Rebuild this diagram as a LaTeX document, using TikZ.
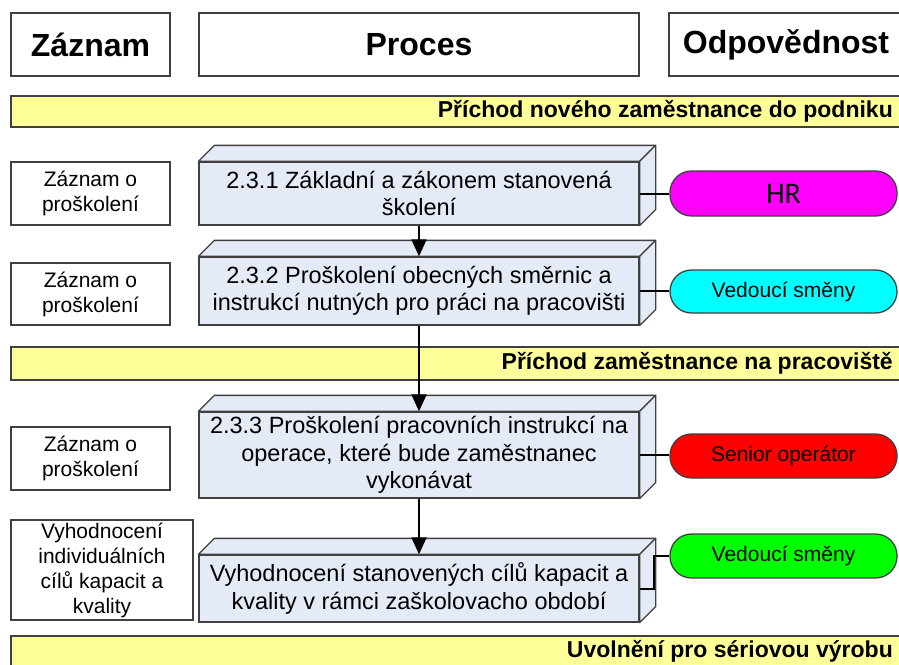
\documentclass[tikz,border=0pt]{standalone}
\usepackage{fontspec}
\setmainfont{Liberation Sans}
\newfontfamily\hrfont{Carlito}
\usetikzlibrary{arrows.meta}
\definecolor{edge}{HTML}{404040}
\definecolor{bandfill}{HTML}{FFFF99}
\definecolor{procfill}{HTML}{E4EAF6}
\definecolor{pillmag}{HTML}{FF00FF}
\definecolor{pillcyan}{HTML}{00FFFF}
\definecolor{pillred}{HTML}{FF0000}
\definecolor{pillgreen}{HTML}{00FF00}
\tikzset{
 frame/.style={draw=edge, line width=1.3pt, fill=white, inner sep=0pt},
 hdr/.style={frame, minimum height=63pt, font=\bfseries\fontsize{32}{36}\selectfont},
 rec/.style={frame, align=center, font=\fontsize{21}{25}\selectfont},
 proc/.style={draw=edge, line width=1.3pt, fill=procfill, inner sep=0pt, minimum width=440pt, align=center, font=\fontsize{23.5}{27.5}\selectfont},
 face/.style={draw=edge, line width=1.3pt, fill=procfill, line join=round},
 band/.style={draw=edge, line width=1.3pt, fill=bandfill, inner sep=0pt, minimum width=894pt},
 bandtext/.style={anchor=east, inner sep=0pt, font=\bfseries\fontsize{23}{27}\selectfont},
 pill/.style={draw=edge, line width=1.3pt, rounded corners=21.5pt, minimum width=227pt, inner sep=0pt, font=\fontsize{21}{25}\selectfont},
 link/.style={line width=2pt, black},
 flow/.style={line width=2pt, black, -{Triangle[length=17pt,width=15pt]}},
}
\newcommand{\threed}[1]{%
 \draw[face] (#1.north west) -- ++(16,-16) -- ([shift={(16,-16)}]#1.north east) -- (#1.north east) -- cycle;
 \draw[face] (#1.north east) -- ++(16,-16) -- ([shift={(16,-16)}]#1.south east) -- (#1.south east) -- cycle;
}
\begin{document}
\begin{tikzpicture}[x=1pt, y=-1pt]
\useasboundingbox (0,0) rectangle (899,664);
\clip (0,0) rectangle (899,664);
\fill[white] (0,0) rectangle (899,664);

% headers
\node[hdr, minimum width=159pt] (hz) at (90.5,44.5) {Záznam};
\node[hdr, minimum width=440pt] (hp) at (419,44.5) {Proces};
\node[hdr, minimum width=234pt] (ho) at (786,44.5) {Odpovědnost};

% bands
\node[band, minimum height=31pt] (b1) at (458,111.5) {};
\node[bandtext] (b1t) at (893,111.5) {Příchod nového zaměstnance do podniku};
\node[band, minimum height=33pt] (b2) at (458,363.5) {};
\node[bandtext] (b2t) at (893,363.5) {Příchod zaměstnance na pracoviště};
\node[band, minimum height=33pt] (b3) at (458,652.5) {};
\node[bandtext] (b3t) at (893,651) {Uvolnění pro sériovou výrobu};

% records
\node[rec, minimum width=159pt, minimum height=63pt] (r1) at (90.5,193.5) {Záznam o\\proškolení};
\node[rec, minimum width=159pt, minimum height=62pt] (r2) at (90.5,294) {Záznam o\\proškolení};
\node[rec, minimum width=159pt, minimum height=63pt] (r3) at (90.5,458.5) {Záznam o\\proškolení};
\node[rec, minimum width=182pt, minimum height=100pt] (r4) at (102,570) {Vyhodnocení\\individuálních\\cílů kapacit a\\kvality};

% process boxes
\node[proc, minimum height=63pt] (p1) at (419,193.5) {2.3.1 Základní a zákonem stanovená\\školení};
\threed{p1}
\node[proc, minimum height=68pt] (p2) at (419,291) {2.3.2 Proškolení obecných směrnic a\\instrukcí nutných pro práci na pracovišti};
\threed{p2}
\node[proc, minimum height=86pt] (p3) at (419,455) {2.3.3 Proškolení pracovních instrukcí na\\operace, které bude zaměstnanec\\vykonávat};
\threed{p3}
\node[proc, minimum height=67pt] (p4) at (419,588.5) {Vyhodnocení stanovených cílů kapacit a\\kvality v rámci zaškolovacho období};
\threed{p4}

% responsibilities
\node[pill, fill=pillmag, minimum height=45pt, font=\hrfont\fontsize{30}{33}\selectfont] (hr) at (783.5,193.5) {HR};
\node[pill, fill=pillcyan, minimum height=43pt] (v1) at (783.5,291.5) {Vedoucí směny};
\node[pill, fill=pillred, minimum height=44pt] (so) at (783.5,456) {Senior operátor};
\node[pill, fill=pillgreen, minimum height=44pt] (v2) at (783.5,556) {Vedoucí směny};

% links
\draw[link] (p1.east) -- (p1.east -| hr.west);
\draw[link] (p2.east) -- (p2.east -| v1.west);
\draw[link] (p3.east) -- (p3.east -| so.west);
\draw[link] (p4.east) -- ++(14,0) |- (v2.west);

% flow
\draw[flow] (p1.south) -- (p2.north);
\draw[flow] (p2.south) -- (p3.north);
\draw[flow] (p3.south) -- (p4.north);
\end{tikzpicture}
\end{document}
